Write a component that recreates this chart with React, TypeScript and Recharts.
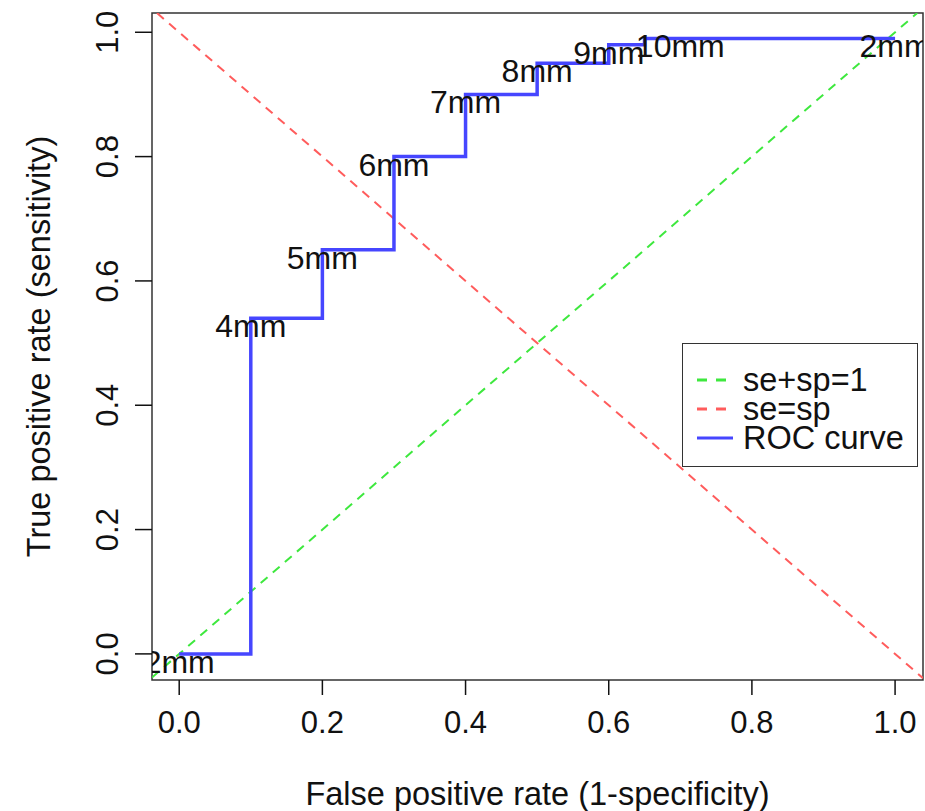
import React from 'react';
import {
  ComposedChart,
  Line,
  Scatter,
  XAxis,
  YAxis,
  ReferenceArea,
  Legend,
} from 'recharts';

// axis ranges (R style, a little padding around 0..1)
const X_MIN = -0.038;
const X_MAX = 1.039;
const Y_MIN = -0.042;
const Y_MAX = 1.031;

const xTicks = [0, 0.2, 0.4, 0.6, 0.8, 1.0];
const yTicks = [0, 0.2, 0.4, 0.6, 0.8, 1.0];

// ROC step curve
const rocFpr = [0, 0.1, 0.1, 0.2, 0.2, 0.3, 0.3, 0.4, 0.4, 0.5, 0.5, 0.6, 0.6, 0.65, 0.65, 1.0];
const rocTpr = [0, 0, 0.54, 0.54, 0.65, 0.65, 0.8, 0.8, 0.9, 0.9, 0.95, 0.95, 0.98, 0.98, 0.99, 0.99];

// cutoff labels
const cutLabels = ['2mm', '4mm', '5mm', '6mm', '7mm', '8mm', '9mm', '10mm', '2mm'];
const cutFpr = [0, 0.1, 0.2, 0.3, 0.4, 0.5, 0.6, 0.7, 1.0];
const cutTpr = [0, 0.54, 0.65, 0.8, 0.9, 0.95, 0.98, 0.99, 0.99];

// reference lines y = a + b * x
const refNames = ['se+sp=1', 'se=sp'];
const refIntercepts = [0, 1];
const refSlopes = [1, -1];

const FONT = '"Liberation Sans", Arial, Helvetica, sans-serif';
const GREEN = '#3ee83e';
const RED = '#ff5c5c';
const BLUE = '#4646ff';

const rocData = rocFpr.map((x, i) => ({ x, y: rocTpr[i] }));
const cutData = cutFpr.map((x, i) => ({ x, y: cutTpr[i], label: cutLabels[i] }));

// clip y = a + b x to the plotting window
function abline(a: number, b: number) {
  const pts: { x: number; y: number }[] = [];
  const cand = [X_MIN, X_MAX, (Y_MIN - a) / b, (Y_MAX - a) / b];
  cand.forEach((x) => {
    const y = a + b * x;
    if (x >= X_MIN - 1e-9 && x <= X_MAX + 1e-9 && y >= Y_MIN - 1e-9 && y <= Y_MAX + 1e-9) {
      pts.push({ x, y });
    }
  });
  pts.sort((p, q) => p.x - q.x);
  return [pts[0], pts[pts.length - 1]];
}

const greenData = abline(refIntercepts[0], refSlopes[0]);
const redData = abline(refIntercepts[1], refSlopes[1]);

function YTick({ x, y, payload }: any) {
  return (
    <text
      x={x}
      y={y}
      transform={`rotate(-90, ${x}, ${y})`}
      textAnchor="middle"
      dy="0.36em"
      fill="#111"
      fontSize={31}
      fontFamily={FONT}
    >
      {payload.value.toFixed(1)}
    </text>
  );
}

function CutLabel({ cx, cy, payload }: any) {
  return (
    <text x={cx} y={cy} dy={19} textAnchor="middle" fill="#111" fontSize={32} fontFamily={FONT}>
      {payload.label}
    </text>
  );
}

function LegendBox() {
  const rows = [
    { name: refNames[0], color: GREEN, dash: '10 9' },
    { name: refNames[1], color: RED, dash: '10 9' },
    { name: 'ROC curve', color: BLUE, dash: undefined },
  ];
  return (
    <div
      style={{
        width: 236,
        height: 124,
        boxSizing: 'border-box',
        border: '1.5px solid #333',
        background: '#fff',
        position: 'relative',
      }}
    >
      {rows.map((r, i) => (
        <div
          key={r.name}
          style={{
            position: 'absolute',
            left: 14,
            top: 21 + i * 29,
            height: 30,
            display: 'flex',
            alignItems: 'center',
          }}
        >
          <svg width={36} height={6} style={{ marginRight: 10 }}>
            <line x1={0} y1={3} x2={36} y2={3} stroke={r.color} strokeWidth={3} strokeDasharray={r.dash} />
          </svg>
          <span style={{ fontFamily: FONT, fontSize: 32.5, color: '#111', lineHeight: '30px' }}>{r.name}</span>
        </div>
      ))}
    </div>
  );
}

export default function App() {
  return (
    <div style={{ position: 'absolute', left: 0, top: 0, width: 925, height: 811, background: '#fff' }}>
      <ComposedChart width={925} height={811} margin={{ top: 13, right: 2, bottom: 0, left: 0 }}>
        <XAxis
          type="number"
          dataKey="x"
          domain={[X_MIN, X_MAX]}
          ticks={xTicks}
          allowDataOverflow
          height={131}
          tickSize={15}
          tickMargin={16}
          tickFormatter={(v: number) => v.toFixed(1)}
          axisLine={false}
          tickLine={{ stroke: '#111', strokeWidth: 1.5 }}
          tick={{ fill: '#111', fontSize: 31, fontFamily: FONT }}
          label={{
            value: 'False positive rate (1-specificity)',
            position: 'insideBottom',
            offset: 6,
            fill: '#111',
            fontSize: 32.5,
            fontFamily: FONT,
          }}
        />
        <YAxis
          type="number"
          dataKey="y"
          domain={[Y_MIN, Y_MAX]}
          ticks={yTicks}
          allowDataOverflow
          width={152}
          tickSize={17}
          tickMargin={28}
          axisLine={false}
          tickLine={{ stroke: '#111', strokeWidth: 1.5 }}
          tick={<YTick />}
          label={{
            value: 'True positive rate (sensitivity)',
            angle: -90,
            position: 'center',
            dx: -38,
            fill: '#111',
            fontSize: 32.5,
            fontFamily: FONT,
          }}
        />
        <ReferenceArea
          x1={X_MIN}
          x2={X_MAX}
          y1={Y_MIN}
          y2={Y_MAX}
          fill="none"
          stroke="#333"
          strokeWidth={1.5}
        />
        <Line
          data={greenData}
          dataKey="y"
          name={refNames[0]}
          stroke={GREEN}
          strokeWidth={2}
          strokeDasharray="9 7"
          dot={false}
          activeDot={false}
          isAnimationActive={false}
        />
        <Line
          data={redData}
          dataKey="y"
          name={refNames[1]}
          stroke={RED}
          strokeWidth={2}
          strokeDasharray="9 7"
          dot={false}
          activeDot={false}
          isAnimationActive={false}
        />
        <Line
          data={rocData}
          dataKey="y"
          name="ROC curve"
          type="linear"
          stroke={BLUE}
          strokeWidth={3.5}
          dot={false}
          activeDot={false}
          isAnimationActive={false}
        />
        <Scatter data={cutData} dataKey="y" shape={<CutLabel />} isAnimationActive={false} />
        <Legend
          layout="horizontal"
          verticalAlign="middle"
          align="center"
          content={<LegendBox />}
          wrapperStyle={{ left: 682, top: 343, width: 236, height: 124 }}
        />
      </ComposedChart>
    </div>
  );
}
